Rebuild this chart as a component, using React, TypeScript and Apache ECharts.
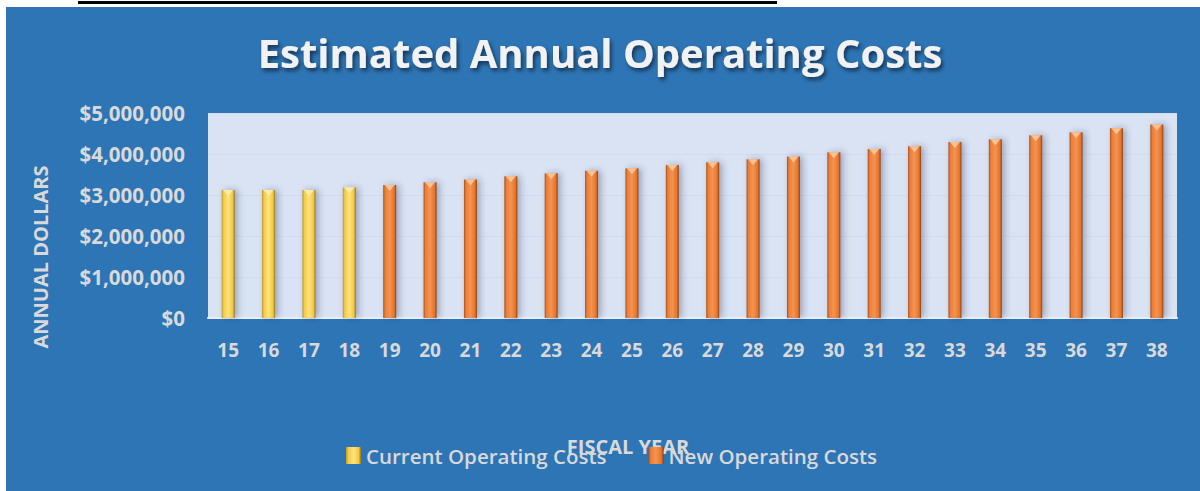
import React, { useEffect, useRef } from "react";
import * as echarts from "echarts";

const fiscalYears = ["15","16","17","18","19","20","21","22","23","24","25","26","27","28","29","30","31","32","33","34","35","36","37","38"];
const currentCosts = [3120000, 3120000, 3120000, 3180000, null, null, null, null, null, null, null, null, null, null, null, null, null, null, null, null, null, null, null, null];
const newCosts = [null, null, null, null, 3245000, 3310000, 3380000, 3460000, 3530000, 3590000, 3650000, 3730000, 3800000, 3870000, 3940000, 4040000, 4120000, 4190000, 4290000, 4360000, 4460000, 4530000, 4630000, 4720000];
const yTicks = { min: 0, max: 5000000, interval: 1000000 };

const FONT = "'Open Sans', 'Noto Sans', sans-serif";
const LABEL = "#D9D9D9";

const grad = (stops: [number, string][]) =>
  new echarts.graphic.LinearGradient(0, 0, 1, 0, stops.map(([offset, color]) => ({ offset, color })));

export default function App() {
  const ref = useRef<HTMLDivElement>(null);
  useEffect(() => {
    if (!ref.current) return;
    const chart = echarts.init(ref.current, undefined, { renderer: "svg" });
    const yellow = grad([[0, "#B8962A"], [0.15, "#F2CB4A"], [0.5, "#FFE27A"], [0.85, "#F0C845"], [1, "#8E7420"]]);
    const orange = grad([[0, "#A84F18"], [0.15, "#EA7E3A"], [0.5, "#F5934F"], [0.85, "#E5742B"], [1, "#864115"]]);
    const barShadow = { shadowColor: "rgba(40,50,80,0.35)", shadowBlur: 6, shadowOffsetX: 3, shadowOffsetY: 0 };
    chart.setOption({
      animation: false,
      backgroundColor: "#ffffff",
      graphic: [
        { type: "rect", z: -100, silent: true, shape: { x: 6, y: 7, width: 1194, height: 484 }, style: { fill: "#2E75B6" } },
        { type: "rect", z: -100, silent: true, shape: { x: 78, y: 1, width: 699, height: 3 }, style: { fill: "#000000" } },
        {
          type: "text", x: 40, y: 257, rotation: Math.PI / 2, silent: true,
          style: { text: "ANNUAL DOLLARS", fill: LABEL, font: `bold 20px ${FONT}`, align: "center", verticalAlign: "middle" },
        },
        {
          type: "text", x: 628, y: 446, silent: true,
          style: { text: "FISCAL YEAR", fill: LABEL, font: `bold 20px ${FONT}`, align: "center", verticalAlign: "middle" },
        },
      ],
      title: {
        text: "Estimated Annual Operating Costs",
        left: "center",
        top: 27,
        textStyle: {
          color: "#F2F2F2", fontFamily: FONT, fontWeight: "bold", fontSize: 40,
          textShadowColor: "rgba(0,0,0,0.55)", textShadowBlur: 4, textShadowOffsetX: 2, textShadowOffsetY: 3,
        },
      },
      legend: {
        data: ["Current Operating Costs", "New Operating Costs"],
        left: 341,
        top: 440,
        icon: "rect",
        itemWidth: 15,
        itemHeight: 17,
        itemGap: 42,
        textStyle: { color: LABEL, fontFamily: FONT, fontSize: 20.5, fontWeight: 600 },
      },
      grid: { left: 208, right: 23, top: 113, bottom: 173, show: true, backgroundColor: "#DAE3F3", borderWidth: 0 },
      xAxis: {
        type: "category",
        data: fiscalYears,
        axisLine: { show: true, lineStyle: { color: "#E9EEF7", width: 2 } },
        axisTick: { show: false },
        axisLabel: { color: LABEL, fontFamily: FONT, fontWeight: "bold", fontSize: 19, margin: 22 },
      },
      yAxis: {
        type: "value",
        min: yTicks.min,
        max: yTicks.max,
        interval: yTicks.interval,
        axisLine: { show: false },
        axisTick: { show: false },
        splitLine: { show: true, lineStyle: { color: "#D2DBEE", width: 1 } },
        axisLabel: {
          color: LABEL, fontFamily: FONT, fontWeight: "bold", fontSize: 20.5, margin: 23,
          formatter: (v: number) => "$" + v.toLocaleString("en-US"),
        },
      },
      series: [
        {
          name: "Current Operating Costs", type: "bar", data: currentCosts, barWidth: 13, barGap: "-100%",
          itemStyle: { color: yellow, ...barShadow },
        },
        {
          name: "New Operating Costs", type: "bar", data: newCosts, barWidth: 13, barGap: "-100%",
          itemStyle: { color: orange, ...barShadow },
        },
        {
          name: "capCurrent", type: "scatter", data: currentCosts, symbol: "triangle", symbolRotate: 180,
          symbolSize: [10, 6], symbolOffset: [0, 3], silent: true, itemStyle: { color: "#FFF1B8" }, z: 5,
        },
        {
          name: "capNew", type: "scatter", data: newCosts, symbol: "triangle", symbolRotate: 180,
          symbolSize: [10, 6], symbolOffset: [0, 3], silent: true, itemStyle: { color: "#FAD0A8" }, z: 5,
        },
      ],
    });
    return () => chart.dispose();
  }, []);
  return <div ref={ref} style={{ position: "fixed", left: 0, top: 0, width: 1200, height: 491 }} />;
}
